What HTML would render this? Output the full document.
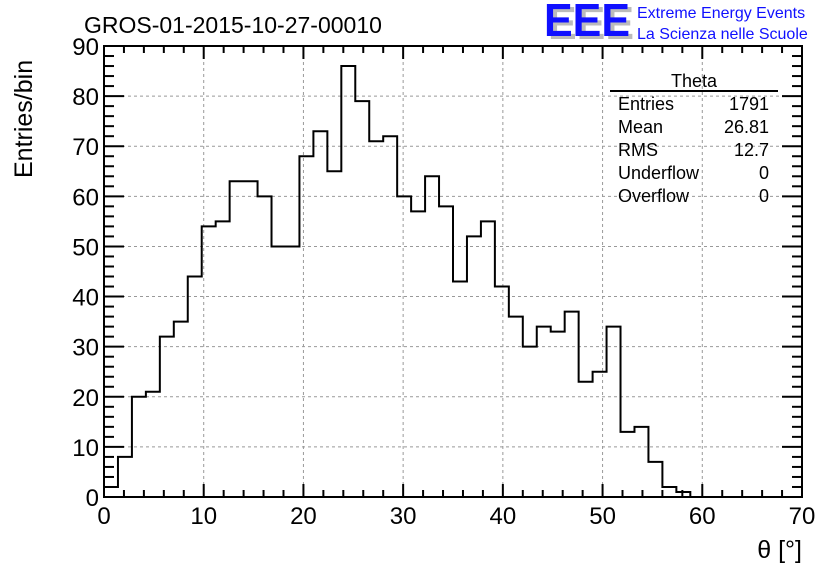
<!DOCTYPE html>
<html><head><meta charset="utf-8"><style>
body{margin:0;background:#fff;}
svg{display:block;font-family:"Liberation Sans",sans-serif;}
</style></head><body>
<svg width="836" height="572" viewBox="0 0 836 572">
<rect width="836" height="572" fill="#fff"/>
<text x="84" y="33" font-size="23">GROS-01-2015-10-27-00010</text>
<g>
<text x="548" y="39" font-size="46" fill="#bbb" font-weight="bold" textLength="86" lengthAdjust="spacingAndGlyphs">EEE</text>
<text x="544" y="36" font-size="46" fill="#1010ff" font-weight="bold" textLength="86" lengthAdjust="spacingAndGlyphs">EEE</text>
<text x="637" y="18" font-size="16" fill="#1010ff">Extreme Energy Events</text>
<text x="637" y="39" font-size="16" fill="#1010ff">La Scienza nelle Scuole</text>
</g>
<g id="grid"></g>
<g id="ticks"></g>
<g id="hist"></g>
<rect x="104" y="46" width="698" height="451" fill="none" stroke="#000" stroke-width="2"/>
<g id="labels"></g>
<text x="802" y="558" font-size="25" text-anchor="end">θ [°]</text>
<text transform="translate(32,178) rotate(-90)" font-size="25" text-anchor="start">Entries/bin</text>
<g font-size="18">
<line x1="610" y1="91" x2="778" y2="91" stroke="#000" stroke-width="2"/>
<text x="694" y="87" text-anchor="middle">Theta</text>
<text x="618" y="110">Entries</text><text x="769" y="110" text-anchor="end">1791</text>
<text x="618" y="133">Mean</text><text x="769" y="133" text-anchor="end">26.81</text>
<text x="618" y="156">RMS</text><text x="769" y="156" text-anchor="end">12.7</text>
<text x="618" y="179">Underflow</text><text x="769" y="179" text-anchor="end">0</text>
<text x="618" y="202">Overflow</text><text x="769" y="202" text-anchor="end">0</text>
</g>
</svg>
<script>
const binWidth = 1.4;
const counts = [2,8,20,21,32,35,44,54,55,63,63,60,50,50,68,73,65,86,79,71,72,60,57,64,58,43,52,55,42,36,30,34,33,37,23,25,34,13,14,7,2,1,0,0,0,0,0,0,0,0];
const xTicks = [0,10,20,30,40,50,60,70];
const yTicks = [0,10,20,30,40,50,60,70,80,90];
const NS="http://www.w3.org/2000/svg";
const X0=104,X1=802,Y0=497,Y1=46;
const sx=v=>X0+(v-0)/(70-0)*(X1-X0);
const sy=v=>Y0-(v-0)/(90-0)*(Y0-Y1);
function mk(tag,attrs,parent){const e=document.createElementNS(NS,tag);for(const k in attrs)e.setAttribute(k,attrs[k]);parent.appendChild(e);return e;}
const grid=document.getElementById('grid'),ticks=document.getElementById('ticks'),labels=document.getElementById('labels');
xTicks.forEach(t=>{
  if(t>0&&t<70){const l=mk('line',{x1:sx(t),x2:sx(t),y1:Y0,y2:Y1,stroke:'#999','stroke-dasharray':'3,3','stroke-width':1},grid);
  
  }
  const tx=mk('text',{x:sx(t),y:524,'font-size':24,'text-anchor':'middle'},labels);
  tx.textContent=t;
  
  
});
yTicks.forEach(t=>{
  if(t>0&&t<90){const l=mk('line',{x1:X0,x2:X1,y1:sy(t),y2:sy(t),stroke:'#999','stroke-dasharray':'3,3','stroke-width':1},grid);
  
  }
  const tx=mk('text',{x:99,y:sy(t)+9,'font-size':24,'text-anchor':'end'},labels);
  tx.textContent=t;
  
  
});
for(let v=0;v<=70;v+=2){const L=(v%10===0)?13:7;
  mk('line',{x1:sx(v),x2:sx(v),y1:Y0,y2:Y0-L,stroke:'#000','stroke-width':2},ticks);
  mk('line',{x1:sx(v),x2:sx(v),y1:Y1,y2:Y1+L,stroke:'#000','stroke-width':2},ticks);}
for(let v=0;v<=90;v+=2){const L=(v%10===0)?20:10;
  mk('line',{x1:X0,x2:X0+L,y1:sy(v),y2:sy(v),stroke:'#000','stroke-width':2},ticks);
  mk('line',{x1:X1,x2:X1-L,y1:sy(v),y2:sy(v),stroke:'#000','stroke-width':2},ticks);}
let d='M'+sx(0)+','+sy(0);
counts.forEach((c,i)=>{d+=' L'+sx(i*binWidth)+','+sy(c)+' L'+sx((i+1)*binWidth)+','+sy(c);});
d+=' L'+sx(counts.length*binWidth)+','+sy(0);
const p=mk('path',{d:d,fill:'none',stroke:'#000','stroke-width':2},document.getElementById('hist'));


</script>
</body></html>
